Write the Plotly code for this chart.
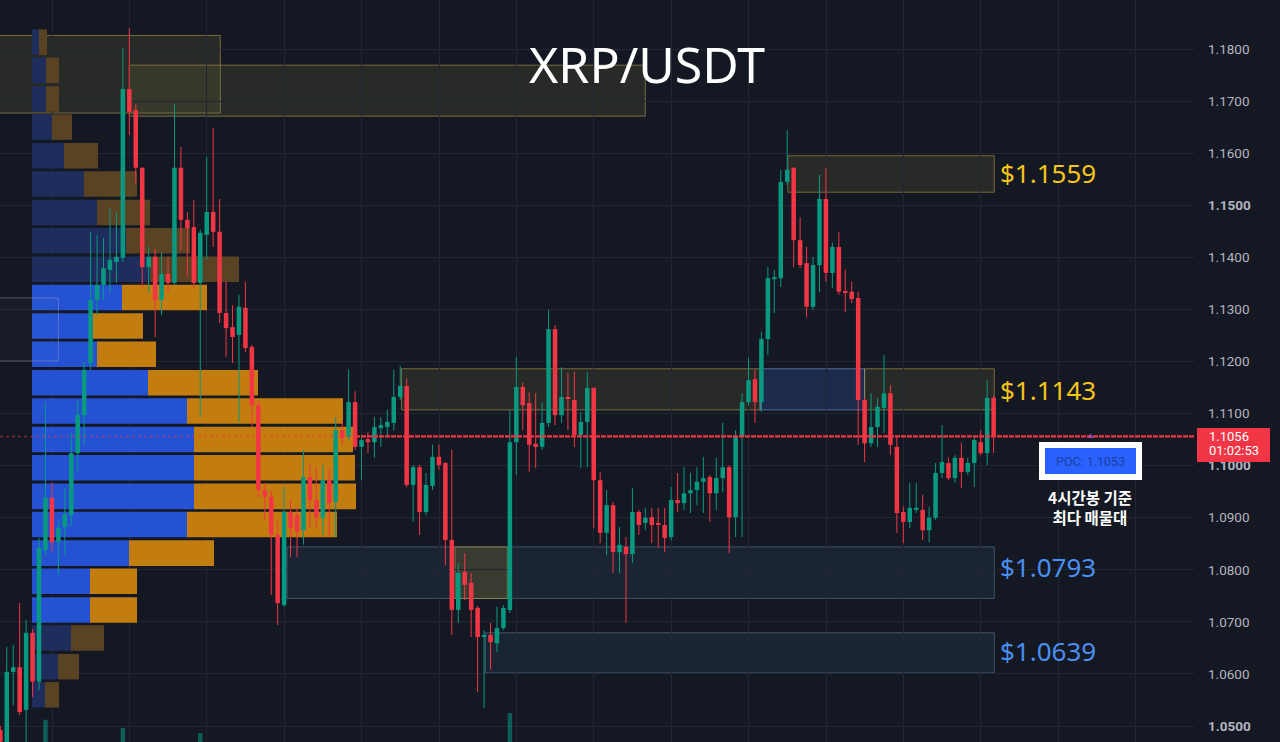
import plotly.graph_objects as go

# ---------------- candle data (4h, XRP/USDT) ----------------
opens = [1.0492, 1.0464, 1.0604, 1.0613, 1.0531, 1.0679, 1.0585, 1.0838, 1.0938, 1.0853,
         1.0882, 1.0905, 1.1024, 1.1097, 1.1197, 1.1318, 1.1347, 1.1376, 1.1391, 1.1399,
         1.1723, 1.1683, 1.1572, 1.1381, 1.1401, 1.1318, 1.1368, 1.1351, 1.1572, 1.1472,
         1.1458, 1.1351, 1.1443, 1.1487, 1.1449, 1.1293, 1.1266, 1.1251, 1.1303, 1.1228,
         1.1116, 1.0953, 1.0940, 1.0867, 1.0732, 1.0911, 1.0905, 1.0876, 1.0978, 1.0934,
         1.0900, 1.0972, 1.0930, 1.1068, 1.1055, 1.1122, 1.1036, 1.1051, 1.1045, 1.1072,
         1.1074, 1.1082, 1.1132, 1.1153, 1.0963, 1.0997, 1.0911, 1.0961, 1.1017, 1.1005,
         1.0857, 1.0723, 1.0796, 1.0775, 1.0727, 1.0671, 1.0675, 1.0659, 1.0688, 1.0723,
         1.1045, 1.1151, 1.1120, 1.1042, 1.1036, 1.1082, 1.1262, 1.1097, 1.1132, 1.1126,
         1.1059, 1.1084, 1.1149, 1.0972, 1.0871, 1.0924, 1.0834, 1.0844, 1.0830, 1.0911,
         1.0890, 1.0901, 1.0890, 1.0886, 1.0863, 1.0934, 1.0928, 1.0947, 1.0953, 1.0969,
         1.0978, 1.0947, 1.0976, 1.0997, 1.0901, 1.1055, 1.1122, 1.1166, 1.1122, 1.1243,
         1.1358, 1.1360, 1.1545, 1.1572, 1.1433, 1.1389, 1.1305, 1.1385, 1.1512, 1.1370,
         1.1420, 1.1335, 1.1334, 1.1322, 1.1126, 1.1043, 1.1074, 1.1111, 1.1139, 1.1036,
         1.0911, 1.0892, 1.0915, 1.0915, 1.0876, 1.0900, 1.0986, 1.1005, 1.0976, 1.1015,
         1.0988, 1.1005, 1.1045, 1.1024, 1.1130]
highs = [1.0500, 1.0652, 1.0656, 1.0736, 1.0704, 1.0686, 1.0861, 1.1122, 1.0967, 1.0896,
         1.0957, 1.1063, 1.1126, 1.1199, 1.1449, 1.1443, 1.1437, 1.1495, 1.1487, 1.1802,
         1.1840, 1.1694, 1.1573, 1.1420, 1.1416, 1.1410, 1.1401, 1.1694, 1.1612, 1.1487,
         1.1510, 1.1453, 1.1593, 1.1648, 1.1512, 1.1353, 1.1308, 1.1328, 1.1353, 1.1232,
         1.1126, 1.0967, 1.0953, 1.0896, 1.0959, 1.0934, 1.0921, 1.1030, 1.1005, 1.0997,
         1.1001, 1.0995, 1.1093, 1.1088, 1.1184, 1.1143, 1.1059, 1.1065, 1.1093, 1.1093,
         1.1107, 1.1184, 1.1191, 1.1168, 1.1001, 1.1001, 1.0986, 1.1040, 1.1040, 1.1007,
         1.1030, 1.0813, 1.0832, 1.0794, 1.0730, 1.0684, 1.0698, 1.0729, 1.0732, 1.1107,
         1.1209, 1.1159, 1.1141, 1.1139, 1.1122, 1.1299, 1.1270, 1.1189, 1.1178, 1.1180,
         1.1103, 1.1180, 1.1151, 1.0988, 1.0953, 1.0930, 1.0882, 1.0863, 1.0957, 1.0915,
         1.0919, 1.0919, 1.0919, 1.0919, 1.0959, 1.0986, 1.0997, 1.0986, 1.0997, 1.1017,
         1.0982, 1.1015, 1.1082, 1.1001, 1.1068, 1.1139, 1.1207, 1.1184, 1.1257, 1.1381,
         1.1376, 1.1568, 1.1644, 1.1573, 1.1477, 1.1420, 1.1401, 1.1558, 1.1572, 1.1428,
         1.1449, 1.1376, 1.1353, 1.1334, 1.1130, 1.1139, 1.1130, 1.1212, 1.1155, 1.1055,
         1.0921, 1.0967, 1.0967, 1.0944, 1.0921, 1.1005, 1.1078, 1.1015, 1.1020, 1.1044,
         1.1015, 1.1055, 1.1068, 1.1164, 1.1134]
lows = [1.0462, 1.0458, 1.0540, 1.0521, 1.0464, 1.0556, 1.0569, 1.0828, 1.0834, 1.0790,
        1.0828, 1.0884, 1.0988, 1.1040, 1.1184, 1.1289, 1.1318, 1.1332, 1.1351, 1.1391,
        1.1635, 1.1541, 1.1341, 1.1332, 1.1247, 1.1289, 1.1332, 1.1347, 1.1414, 1.1362,
        1.1341, 1.1093, 1.1395, 1.1420, 1.1274, 1.1209, 1.1197, 1.1084, 1.1218, 1.1074,
        1.0940, 1.0896, 1.0752, 1.0694, 1.0729, 1.0825, 1.0825, 1.0848, 1.0880, 1.0880,
        1.0867, 1.0863, 1.0863, 1.1040, 1.1049, 1.1030, 1.0972, 1.1024, 1.1015, 1.1036,
        1.1055, 1.1068, 1.1126, 1.0959, 1.0892, 1.0867, 1.0905, 1.0953, 1.0992, 1.0809,
        1.0675, 1.0698, 1.0742, 1.0671, 1.0565, 1.0535, 1.0608, 1.0642, 1.0684, 1.0717,
        1.0982, 1.1068, 1.0988, 1.0995, 1.1030, 1.1074, 1.1078, 1.1082, 1.1068, 1.1036,
        1.0995, 1.0997, 1.0880, 1.0851, 1.0828, 1.0794, 1.0794, 1.0698, 1.0813, 1.0867,
        1.0876, 1.0851, 1.0842, 1.0834, 1.0857, 1.0911, 1.0915, 1.0909, 1.0924, 1.0909,
        1.0892, 1.0915, 1.0949, 1.0832, 1.0863, 1.0863, 1.1116, 1.1082, 1.1103, 1.1212,
        1.1293, 1.1343, 1.1539, 1.1381, 1.1379, 1.1285, 1.1299, 1.1333, 1.1353, 1.1341,
        1.1328, 1.1295, 1.1312, 1.1040, 1.1007, 1.1036, 1.1036, 1.1063, 1.1020, 1.0871,
        1.0851, 1.0880, 1.0909, 1.0857, 1.0853, 1.0896, 1.0976, 1.0972, 1.0967, 1.0957,
        1.0982, 1.0959, 1.1020, 1.1001, 1.1024]
closes = [1.0470, 1.0604, 1.0613, 1.0527, 1.0679, 1.0585, 1.0842, 1.0938, 1.0853, 1.0880,
          1.0907, 1.1024, 1.1097, 1.1184, 1.1318, 1.1347, 1.1379, 1.1395, 1.1401, 1.1723,
          1.1679, 1.1572, 1.1381, 1.1401, 1.1318, 1.1368, 1.1351, 1.1572, 1.1472, 1.1456,
          1.1351, 1.1447, 1.1487, 1.1449, 1.1293, 1.1264, 1.1247, 1.1305, 1.1226, 1.1116,
          1.0953, 1.0940, 1.0867, 1.0736, 1.0911, 1.0880, 1.0873, 1.0978, 1.0934, 1.0900,
          1.0972, 1.0928, 1.1068, 1.1053, 1.1122, 1.1036, 1.1049, 1.1045, 1.1074, 1.1078,
          1.1084, 1.1132, 1.1153, 1.0963, 1.0997, 1.0911, 1.0963, 1.1017, 1.1001, 1.0857,
          1.0723, 1.0794, 1.0771, 1.0723, 1.0671, 1.0675, 1.0661, 1.0688, 1.0727, 1.1045,
          1.1151, 1.1116, 1.1040, 1.1036, 1.1082, 1.1262, 1.1097, 1.1132, 1.1128, 1.1059,
          1.1084, 1.1149, 1.0972, 1.0871, 1.0924, 1.0834, 1.0848, 1.0830, 1.0911, 1.0886,
          1.0900, 1.0886, 1.0886, 1.0861, 1.0934, 1.0928, 1.0947, 1.0953, 1.0969, 1.0976,
          1.0947, 1.0976, 1.0997, 1.0901, 1.1055, 1.1122, 1.1164, 1.1122, 1.1243, 1.1360,
          1.1362, 1.1545, 1.1568, 1.1433, 1.1385, 1.1305, 1.1385, 1.1512, 1.1370, 1.1420,
          1.1334, 1.1332, 1.1320, 1.1126, 1.1043, 1.1074, 1.1113, 1.1139, 1.1040, 1.0909,
          1.0892, 1.0919, 1.0919, 1.0876, 1.0900, 1.0986, 1.1007, 1.0976, 1.1015, 1.0988,
          1.1005, 1.1049, 1.1024, 1.1130, 1.1056]

# volume bars peeking at the bottom
vol_index = [7, 19, 31, 79]
vol_values = [3.0, 1.9, 1.2, 3.9]

# ---------------- volume profile ----------------
vp_levels = [1.1813, 1.1759, 1.1704, 1.1650, 1.1595, 1.1541, 1.1486, 1.1432, 1.1377, 1.1323,
             1.1268, 1.1214, 1.1159, 1.1105, 1.1050, 1.0996, 1.0941, 1.0887, 1.0832, 1.0778,
             1.0723, 1.0669, 1.0614, 1.0560]
vp_buy = [7, 14, 14, 20, 32, 52, 65, 94, 118, 90, 61, 65, 116, 155, 162, 162, 162, 155, 97, 58, 58, 39, 26, 13]
vp_sell = [8, 13, 13, 20, 34, 53, 53, 64, 89, 85, 50, 59, 110, 156, 159, 161, 162, 150, 85, 47, 47, 33, 21, 14]
vp_value_area = [0, 0, 0, 0, 0, 0, 0, 0, 0, 1, 1, 1, 1, 1, 1, 1, 1, 1, 1, 1, 1, 0, 0, 0]

last_price = 1.1056
poc_price = 1.1053
countdown = "01:02:53"

# ---------------- zones ----------------
zone_start = [-1, 20.0, -1, 122.1, 62.2, 117.8, 134.0, 44.45, 70.5, 75.2]
zone_end = [34.1, 100.0, 9.0, 154.1, 117.8, 134.0, 154.1, 154.1, 78.6, 154.1]
zone_top = [1.1826, 1.1769, 1.1322, 1.1595, 1.1186, 1.1186, 1.1186, 1.0844, 1.0844, 1.0679]
zone_bottom = [1.1677, 1.1671, 1.1201, 1.1525, 1.1107, 1.1107, 1.1107, 1.0745, 1.0745, 1.0602]
zone_kind = ["supply", "supply", "neutral", "supply", "supply", "strong", "supply", "demand", "supply2", "demand"]

level_labels = ["$1.1559", "$1.1143", "$1.0793", "$1.0639"]
level_label_prices = [1.1562, 1.1145, 1.0805, 1.0645]
level_label_colors = ["#f5c518", "#f5c518", "#4b8ff0", "#4b8ff0"]

tick_values = [1.05, 1.06, 1.07, 1.08, 1.09, 1.10, 1.11, 1.12, 1.13, 1.14, 1.15, 1.16, 1.17, 1.18, 1.19]
bold_ticks = [1.05, 1.10, 1.15]

# ---------------- styles ----------------
BG = "#141823"
GRID = "#222633"
UP = "#089981"
DN = "#f23645"

Y_RANGE = [1.046935, 1.189409]
PLOT_W = 1195
CANDLE_PX = 6.45

zone_style = {
    "supply": dict(fill="rgba(130,125,60,0.18)", line="rgba(190,170,80,0.55)", layer="below"),
    "supply2": dict(fill="rgba(130,110,45,0.30)", line="rgba(190,170,80,0.55)", layer="below"),
    "strong": dict(fill="rgba(50,100,200,0.25)", line="rgba(140,170,220,0.55)", layer="below"),
    "demand": dict(fill="rgba(70,105,140,0.15)", line="rgba(110,140,170,0.50)", layer="below"),
    "neutral": dict(fill="rgba(255,255,255,0.02)", line="rgba(150,160,190,0.45)", layer="above"),
}

fig = go.Figure()

# volume profile on base axes (x = volume units, y = price)
bright_buy, bright_sell = "#2452d3", "#c27d0e"
dim_buy, dim_sell = "#1e2d5c", "#5a4322"
fig.add_trace(go.Bar(
    y=vp_levels, x=vp_buy, base=[0] * len(vp_buy), orientation="h", width=0.0049,
    marker=dict(color=[bright_buy if v else dim_buy for v in vp_value_area], line=dict(width=0)),
    hoverinfo="skip", xaxis="x", yaxis="y"))
fig.add_trace(go.Bar(
    y=vp_levels, x=vp_sell, base=vp_buy, orientation="h", width=0.0049,
    marker=dict(color=[bright_sell if v else dim_sell for v in vp_value_area], line=dict(width=0)),
    hoverinfo="skip", xaxis="x", yaxis="y"))

# volume bars at the bottom
fig.add_trace(go.Bar(x=vol_index, y=vol_values, width=0.68, xaxis="x2", yaxis="y3",
                     marker=dict(color="rgba(8,153,129,0.55)", line=dict(width=0)), hoverinfo="skip"))

# candles on overlay axis x2
idx = list(range(len(opens)))
for color, ids in ((UP, [i for i in idx if closes[i] >= opens[i]]),
                   (DN, [i for i in idx if closes[i] < opens[i]])):
    wx, wy = [], []
    for i in ids:
        wx += [i, i, None]
        wy += [lows[i], highs[i], None]
    fig.add_trace(go.Scatter(x=wx, y=wy, mode="lines", line=dict(color=color, width=1),
                             hoverinfo="skip", xaxis="x2", yaxis="y"))
    base = [min(opens[i], closes[i]) for i in ids]
    hgt = [max(abs(closes[i] - opens[i]), 0.00015) for i in ids]
    fig.add_trace(go.Bar(x=ids, y=hgt, base=base, width=0.7, marker=dict(color=color, line=dict(width=0)),
                         hoverinfo="skip", xaxis="x2", yaxis="y"))

# small marker above POC box
fig.add_trace(go.Scatter(x=[169], y=[last_price], mode="markers",
                         marker=dict(symbol="triangle-up", size=6, color="#2962ff"),
                         hoverinfo="skip", xaxis="x2", yaxis="y"))

shapes = []
for x0, x1, t, b, k in zip(zone_start, zone_end, zone_top, zone_bottom, zone_kind):
    st = zone_style[k]
    shapes.append(dict(type="rect", xref="x2", yref="y", x0=x0, x1=x1, y0=b, y1=t,
                       fillcolor=st["fill"], line=dict(color=st["line"], width=1), layer=st["layer"]))

# current price line
split = 355 / PLOT_W
shapes.append(dict(type="line", xref="paper", yref="y", x0=0, x1=split, y0=last_price, y1=last_price,
                   line=dict(color="rgba(242,54,69,0.5)", width=1.5, dash="dot"), layer="above"))
shapes.append(dict(type="line", xref="paper", yref="y", x0=split, x1=1.0, y0=last_price, y1=last_price,
                   line=dict(color=DN, width=2.2, dash="5px,1px"), layer="above"))

# price tag at the axis
shapes.append(dict(type="rect", xref="paper", yref="paper", x0=1197 / PLOT_W, x1=1270 / PLOT_W,
                   y0=1 - 462 / 742, y1=1 - 428 / 742, fillcolor=DN, line=dict(width=0), layer="above"))
# POC box
shapes.append(dict(type="rect", xref="paper", yref="paper", x0=1039 / PLOT_W, x1=1142 / PLOT_W,
                   y0=1 - 480 / 742, y1=1 - 442 / 742, fillcolor="#ffffff", line=dict(width=0), layer="above"))
shapes.append(dict(type="rect", xref="paper", yref="paper", x0=1045 / PLOT_W, x1=1136 / PLOT_W,
                   y0=1 - 474 / 742, y1=1 - 448 / 742, fillcolor="#2962ff", line=dict(width=0), layer="above"))

annotations = []
annotations.append(dict(text="XRP/USDT", x=647 / PLOT_W, y=1 - 64 / 742, xref="paper", yref="paper",
                        showarrow=False, xanchor="center", yanchor="middle",
                        font=dict(family="Noto Sans", size=50, color="#ffffff")))
for lab, p, c in zip(level_labels, level_label_prices, level_label_colors):
    annotations.append(dict(text=lab, x=998 / PLOT_W, y=p, xref="paper", yref="y", showarrow=False,
                            xanchor="left", yanchor="middle",
                            font=dict(family="Noto Sans", size=26, color=c)))
annotations.append(dict(text=f"POC: {poc_price:.4f}", x=1090.5 / PLOT_W, y=1 - 461 / 742, xref="paper",
                        yref="paper", showarrow=False, xanchor="center", yanchor="middle",
                        font=dict(family="Roboto", size=12.5, color="#1d3f9e")))
annotations.append(dict(text="<b>4시간봉 기준</b><br><b>최다 매물대</b>", x=1090 / PLOT_W, y=1 - 507 / 742,
                        xref="paper", yref="paper", showarrow=False, xanchor="center", yanchor="middle",
                        font=dict(family="Noto Sans CJK KR", size=15.5, color="#ffffff")))
annotations.append(dict(text=f"{last_price:.4f}", x=1207 / PLOT_W, y=1 - 436 / 742, xref="paper",
                        yref="paper", showarrow=False, xanchor="left", yanchor="middle",
                        font=dict(family="Roboto", size=13, color="#ffffff")))
annotations.append(dict(text=countdown, x=1207 / PLOT_W, y=1 - 450 / 742, xref="paper",
                        yref="paper", showarrow=False, xanchor="left", yanchor="middle",
                        font=dict(family="Roboto", size=13, color="#ffffff")))

tick_text = []
for v in tick_values:
    s = f"{v:.4f}"
    if any(abs(v - b) < 1e-9 for b in bold_ticks):
        s = f"<b>{s}</b>"
    tick_text.append(s)

fig.update_layout(
    width=1280, height=742,
    margin=dict(l=0, r=85, t=0, b=0),
    paper_bgcolor=BG, plot_bgcolor=BG,
    showlegend=False, barmode="overlay",
    xaxis=dict(range=[-32, PLOT_W - 32], showticklabels=False, ticks="", zeroline=False,
               showgrid=True, gridcolor=GRID, gridwidth=1, tick0=20, dtick=12 * CANDLE_PX, fixedrange=True),
    xaxis2=dict(range=[-0.05, PLOT_W / CANDLE_PX - 0.05], overlaying="x", visible=False, fixedrange=True),
    yaxis=dict(range=Y_RANGE, side="right", tickvals=tick_values, ticktext=tick_text,
               tickfont=dict(family="Roboto", size=13.5, color="#b2b5be"), ticks="",
               ticklabelstandoff=12, showgrid=True, gridcolor=GRID, gridwidth=1,
               zeroline=False, showline=False, fixedrange=True),
    yaxis3=dict(range=[0, 100], overlaying="y", visible=False, fixedrange=True),
    shapes=shapes, annotations=annotations,
    hovermode=False,
)

fig.write_html("out.html", config={"displayModeBar": False})
